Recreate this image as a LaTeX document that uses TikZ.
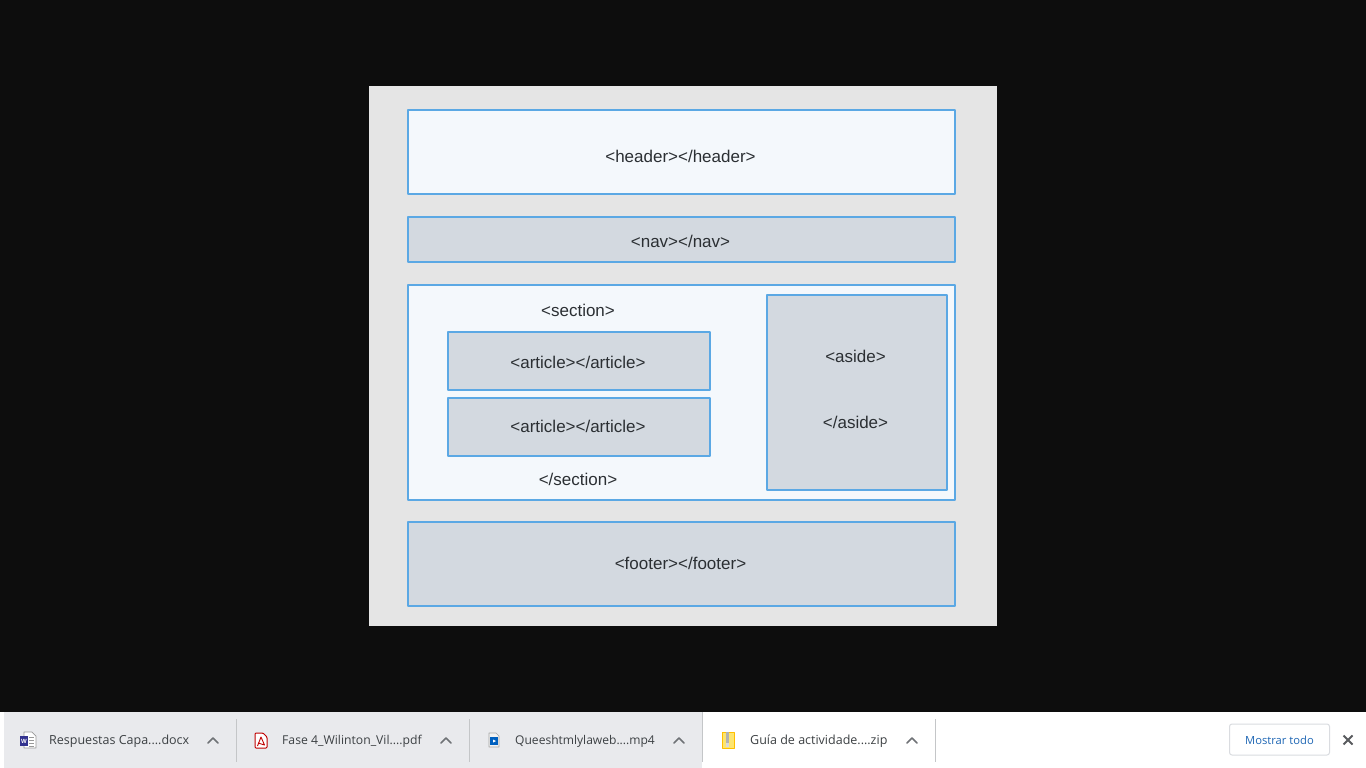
\documentclass[tikz,border=0pt]{standalone}
\usepackage{fontspec}
\setmainfont{Liberation Sans}
\newfontfamily\barfont{Open Sans}
\definecolor{screenbg}{HTML}{0D0D0D}
\definecolor{panelbg}{HTML}{E5E5E5}
\definecolor{boxline}{HTML}{5BA8E4}
\definecolor{boxlight}{HTML}{F4F8FC}
\definecolor{boxgray}{HTML}{D3D9E0}
\definecolor{tagtext}{HTML}{2B2F33}
\definecolor{bargray}{HTML}{E9EAED}
\definecolor{barline}{HTML}{C4C6C8}
\definecolor{bartext}{HTML}{3C4043}
\definecolor{chevcol}{HTML}{6F7276}
\definecolor{btnblue}{HTML}{1F67B5}
\definecolor{btnline}{HTML}{DADCE0}
\tikzset{
	tagbox/.style={draw=boxline,line width=2pt,rectangle,inner sep=0pt},
	taglabel/.style={text=tagtext,font=\fontsize{17}{19}\selectfont,inner sep=0pt,yshift=-.7pt},
	barlabel/.style={text=bartext,font=\barfont\fontsize{#1}{14}\selectfont,anchor=west,inner sep=0pt,yshift=-1.5pt},
	chev/.style={draw=chevcol,line width=1.6pt,line cap=round,line join=round},
}
\begin{document}
\begin{tikzpicture}[x=1pt,y=-1pt,line join=round]
	\useasboundingbox (0,0) rectangle (1366,768);
	\fill[screenbg] (0,0) rectangle (1366,768);
	\fill[panelbg] (369,86) rectangle (997,626);
	% boxes of the page
	\foreach \nm/\xa/\ya/\xb/\yb/\col in {header/408/109.5/955/193.5/boxlight,nav/408/216.5/955/262/boxgray,section/408/285/955/500/boxlight,footer/408/521.5/955/605.5/boxgray,articleA/448/332/709.5/390/boxgray,articleB/448/397.5/709.5/456/boxgray,aside/766.5/294.5/946.5/490/boxgray}
	\node[tagbox,fill=\col,minimum width={\xb-\xa},minimum height={\yb-\ya}] (\nm) at ({(\xa+\xb)/2},{(\ya+\yb)/2}) {};
	% tags
	\node[taglabel] (lheader) at (680.5,156) {<header></header>};
	\node[taglabel] (lnav) at (680.5,241) {<nav></nav>};
	\node[taglabel] (lsectiona) at (578,310) {<section>};
	\node[taglabel] (larticlea) at (578,362) {<article></article>};
	\node[taglabel] (larticleb) at (578,426) {<article></article>};
	\node[taglabel] (lsectionb) at (578,479) {</section>};
	\node[taglabel] (lasidea) at (855.5,356) {<aside>};
	\node[taglabel] (lasideb) at (855.5,422) {</aside>};
	\node[taglabel] (lfooter) at (680.5,563) {<footer></footer>};
	% download bar
	\fill[white] (0,712) rectangle (1366,768);
	\fill[bargray] (4,712) rectangle (702,768);
	\foreach \x/\ya in {236.5/719,469.5/719,702/712,935.5/719}
	\draw[barline,line width=1pt] (\x,\ya)--(\x,762);
	\node[barlabel=12.5] (fileA) at (49,740) {Respuestas Capa....docx};
	\node[barlabel=12.2] (fileB) at (282,740) {Fase 4\_Wilinton\_Vil....pdf};
	\node[barlabel=12.05] (fileC) at (515,740) {Queeshtmlylaweb....mp4};
	\node[barlabel=12.5] (fileD) at (750,740) {Guía de actividade....zip};
	\foreach \x in {213,446,679,912}
	\draw[chev] (\x-5,743)--(\x,738)--(\x+5,743);
	% word icon
	\draw[fill=white,draw=gray!80,line width=.7pt] (24,732)--(32,732)--(36,736)--(36,748)--(24,748)--cycle;
	\foreach \y in {737,740,743,746}
	\draw[gray!80,line width=.7pt] (29,\y)--(34,\y);
	\fill[blue!45!black!80!white] (20,736) rectangle (28,746);
	\node[white,font=\bfseries\fontsize{6}{6}\selectfont,inner sep=0pt] (iconw) at (24,741) {W};
	% pdf icon
	\draw[fill=white,draw=red!75!black,line width=1pt,rounded corners=1pt] (255,733)--(263,733)--(267,737)--(267,748)--(255,748)--cycle;
	\draw[red!75!black,line width=.9pt] (257.5,746)--(261,737)--(264.5,745)--(258,743);
	% video icon
	\draw[fill=white!90!gray,draw=gray!70,line width=.7pt] (489,733)--(496,733)--(499,736)--(499,747)--(489,747)--cycle;
	\fill[blue!50!cyan!75!black] (490,737) rectangle (498,745);
	\fill[white] (493,739.5)--(496,741)--(493,742.5)--cycle;
	% zip icon
	\fill[yellow!70!orange!55!white] (722,732) rectangle (734,748);
	\draw[orange!50!yellow,line width=.5pt] (722,732) rectangle (734,748);
	\fill[gray!60] (726,732) rectangle (729,743);
	\fill[gray!30] (726,743) rectangle (729,747);
	% button
	\node[draw=btnline,line width=1pt,rounded corners=2.5pt,minimum width=100pt,minimum height=31pt,inner sep=0pt,text=btnblue,font=\barfont\fontsize{11.2}{13}\selectfont,text depth=0pt] (showall) at (1279.5,739.5) {\raisebox{-1pt}{Mostrar todo}};
	\coordinate (xa) at (1343.5,735.5);
	\coordinate (xb) at (1352.5,744.5);
	\coordinate (xc) at (1343.5,744.5);
	\coordinate (xd) at (1352.5,735.5);
	\draw[chevcol!80!black,line width=1.9pt] (xa)--(xb) (xc)--(xd);
\end{tikzpicture}
\end{document}
